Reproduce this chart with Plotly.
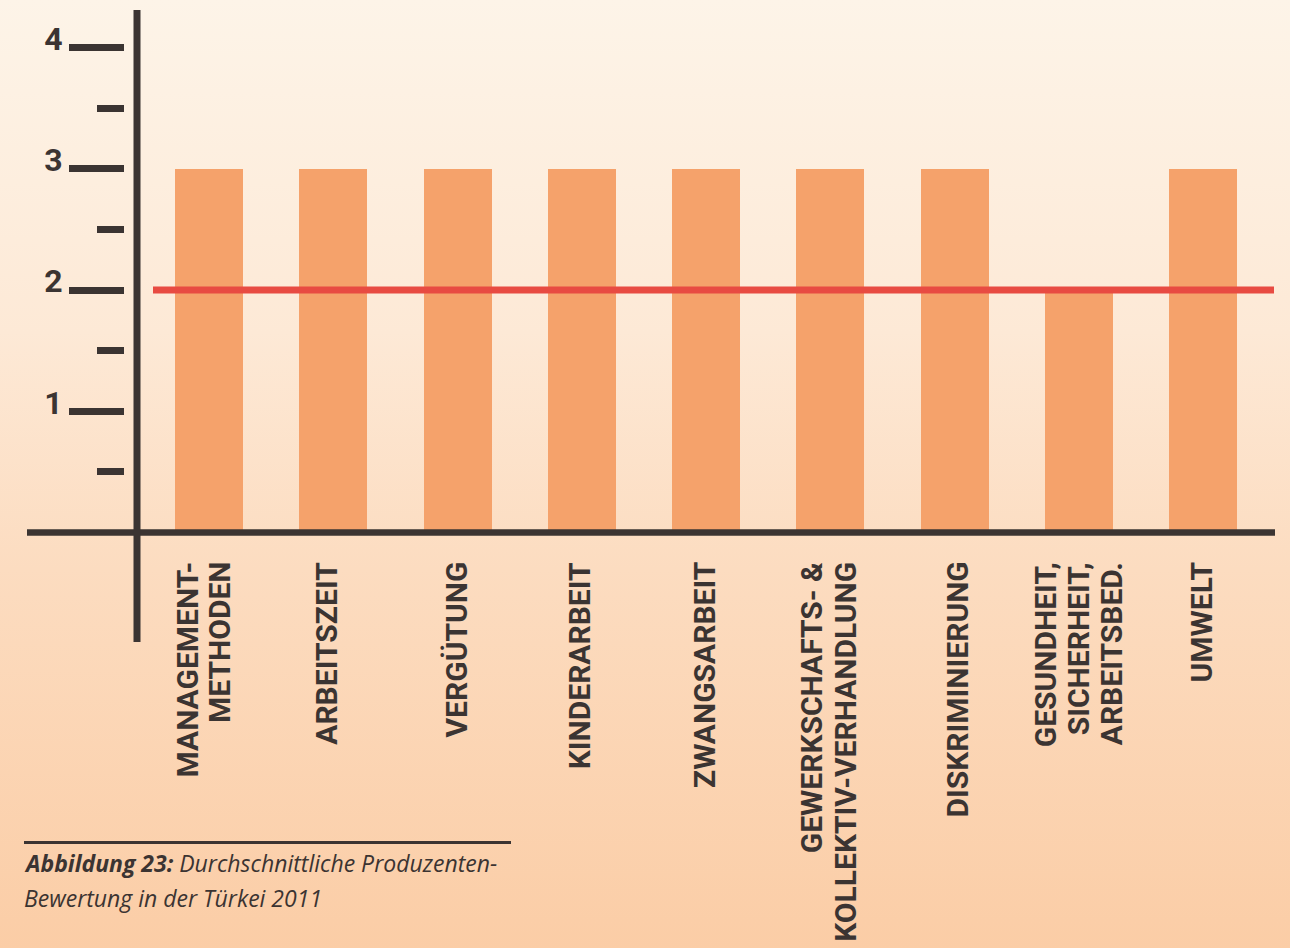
import plotly.graph_objects as go
import base64

# ---------------- data ----------------
categories = [
    "MANAGEMENT-\nMETHODEN",
    "ARBEITSZEIT",
    "VERGÜTUNG",
    "KINDERARBEIT",
    "ZWANGSARBEIT",
    "GEWERKSCHAFTS- &\nKOLLEKTIV-VERHANDLUNG",
    "DISKRIMINIERUNG",
    "GESUNDHEIT,\nSICHERHEIT,\nARBEITSBED.",
    "UMWELT",
]
scores = [3, 3, 3, 3, 3, 3, 3, 2, 3]
reference_value = 2
y_major_ticks = [1, 2, 3, 4]
y_major_labels = ["1", "2", "3", "4"]
y_minor_ticks = [0.5, 1.5, 2.5, 3.5]
caption_bold = "Abbildung 23:"
caption_line1 = " Durchschnittliche Produzenten-"
caption_line2 = "Bewertung in der Türkei 2011"

# ---------------- styling ----------------
W, H = 1290, 948
DARK = "#3b3432"
BAR = "#f5a26b"
RED = "#e84b42"
LABEL_FONT = "Roboto, sans-serif"
CAPTION_FONT = "Open Sans, Noto Sans, sans-serif"
label_xshift = [-6, -7, -2, -2, -2, -2, 2, 0, -2]

# pixel geometry of the reference
y0_px, unit_px = 532.5, 121.2
x0_px, step_px = 209.0, 124.25
y_range = [(y0_px - H) / unit_px, y0_px / unit_px]
x_range = [-x0_px / step_px, (W - x0_px) / step_px]

def px_x(p):
    return p / W

def px_y(p):
    return 1 - p / H

x_keys = [c.replace("\n", " ") for c in categories]

fig = go.Figure()
fig.add_trace(go.Bar(
    x=x_keys, y=scores, marker=dict(color=BAR, line=dict(width=0)),
    width=68 / step_px, hoverinfo="skip",
))

# background gradient
svg = f'''<svg xmlns="http://www.w3.org/2000/svg" width="{W}" height="{H}">
<defs><linearGradient id="g" x1="0" y1="0" x2="0" y2="1">
<stop offset="0" stop-color="#fdf4e8"/>
<stop offset="0.35" stop-color="#fde9d6"/>
<stop offset="0.6" stop-color="#fcdcc0"/>
<stop offset="1" stop-color="#fbcda6"/>
</linearGradient></defs>
<rect width="{W}" height="{H}" fill="url(#g)"/></svg>'''
src = "data:image/svg+xml;base64," + base64.b64encode(svg.encode()).decode()
fig.add_layout_image(dict(source=src, xref="paper", yref="paper", x=0, y=1,
                          sizex=1, sizey=1, sizing="stretch", layer="below"))

shapes = []
shapes.append(dict(type="line", xref="paper", yref="y", x0=px_x(153), x1=px_x(1274),
                   y0=reference_value, y1=reference_value, line=dict(color=RED, width=7)))
shapes.append(dict(type="line", xref="paper", yref="y", x0=px_x(27), x1=px_x(1275),
                   y0=0, y1=0, line=dict(color=DARK, width=6.5)))
shapes.append(dict(type="line", xref="paper", yref="paper", x0=px_x(137), x1=px_x(137),
                   y0=px_y(10), y1=px_y(642), line=dict(color=DARK, width=7)))
shapes.append(dict(type="line", xref="paper", yref="paper", x0=px_x(24), x1=px_x(511),
                   y0=px_y(842.5), y1=px_y(842.5), line=dict(color=DARK, width=3)))
fig.update_layout(shapes=shapes)

# category labels (rotated, one annotation per line)
pitch = 33
for key, cat, dx in zip(x_keys, categories, label_xshift):
    lines = cat.split("\n")
    n = len(lines)
    for i, ln in enumerate(lines):
        fig.add_annotation(
            x=key, xref="x", y=px_y(561), yref="paper",
            text=ln, textangle=-90, showarrow=False,
            xanchor="center", yanchor="top",
            xshift=(i - (n - 1) / 2) * pitch + dx,
            font=dict(family=LABEL_FONT, size=30, color=DARK, weight="bold"),
            borderpad=0,
        )

# caption
fig.add_annotation(x=px_x(22), y=px_y(863), xref="paper", yref="paper",
                   text=f"<b><i>{caption_bold}</i></b><i>{caption_line1}</i>",
                   showarrow=False, xanchor="left", yanchor="middle",
                   font=dict(family=CAPTION_FONT, size=23, color=DARK))
fig.add_annotation(x=px_x(22), y=px_y(898), xref="paper", yref="paper",
                   text=f"<i>{caption_line2}</i>",
                   showarrow=False, xanchor="left", yanchor="middle",
                   font=dict(family=CAPTION_FONT, size=23, color=DARK))

fig.update_layout(
    width=W, height=H,
    margin=dict(l=0, r=0, t=0, b=0),
    paper_bgcolor="#fde6cf", plot_bgcolor="rgba(0,0,0,0)",
    showlegend=False, bargap=0,
    xaxis=dict(type="category", range=x_range, showticklabels=False, showgrid=False,
               zeroline=False, showline=False, ticks="", fixedrange=True),
    yaxis=dict(range=y_range, anchor="free", position=px_x(124), side="left",
               showgrid=False, zeroline=False, showline=False,
               tickmode="array", tickvals=y_major_ticks, ticktext=y_major_labels,
               ticks="outside", ticklen=55, tickwidth=6.5, tickcolor=DARK,
               ticklabelshift=-9, ticklabelstandoff=0,
               tickfont=dict(family=LABEL_FONT, size=32, color=DARK, weight="bold"),
               minor=dict(tickmode="array", tickvals=y_minor_ticks, ticks="outside",
                          ticklen=27, tickwidth=6.5, tickcolor=DARK, showgrid=False),
               fixedrange=True),
)

fig.write_html(
    "out.html",
    config={"displayModeBar": False},
    post_script="document.body.style.margin='0';document.body.style.padding='0';"
                "document.body.style.overflow='hidden';",
)
